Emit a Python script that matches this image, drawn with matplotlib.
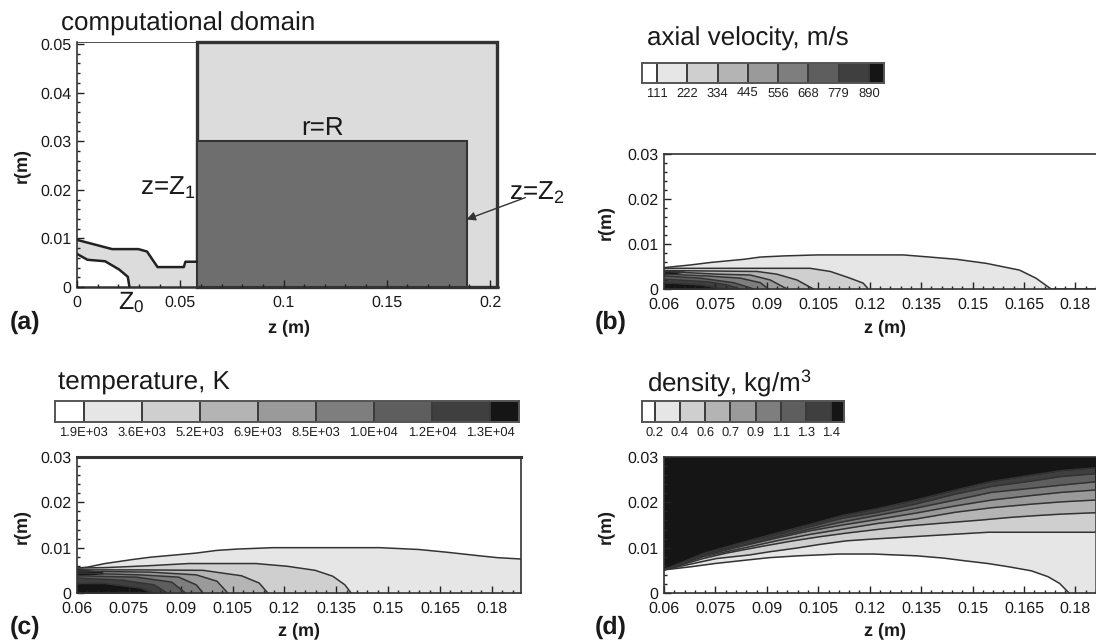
# -*- coding: utf-8 -*-
import numpy as np
from matplotlib import pyplot as plt
from matplotlib.colors import ListedColormap
from matplotlib.patches import Rectangle

plt.rcParams['font.family'] = ['Liberation Sans', 'DejaVu Sans']
plt.rcParams['mathtext.default'] = 'regular'
plt.rcParams['text.hinting'] = 'no_hinting'
plt.rcParams['text.hinting_factor'] = 1

W, H = 1096, 641

greys = ['#ffffff', '#e6e6e6', '#cfcfcf', '#b4b4b4', '#9a9a9a', '#7e7e7e', '#5e5e5e', '#3f3f3f', '#151515']
line_col = '#333333'

# panel a: nozzle geometry
nozzle_z = [0, .017, .0297, .0339, .0390, .0517, .0525, .058]
nozzle_r = [.0097, .0078, .0078, .0073, .0041, .0041, .0052, .0052]
inner_z = [0, .0051, .0136, .0204, .0246, .0254]
inner_r = [.0068, .0056, .0053, .0036, .0021, 0]
domain_z = [.058, .2034]
domain_r = .0505
plume_z = [.058, .1886]
plume_r = .03

# panel b: axial velocity contours
vel_levels = ['111', '222', '334', '445', '556', '668', '779', '890']
vel_contours = [
    ([.06, .0678, .0736, .0833, .0881, .0949, .1046, .1298, .1375, .1453, .154, .1637, .1685, .1729, .19],
     [.00475, .00535, .0059, .0066, .0071, .00735, .00757, .00757, .0071, .0066, .0057, .0042, .0024, 0, 0]),
    ([.06, .0800, .1026, .1085, .1143, .1181, .1196], [.0046, .0046, .0046, .0039, .0024, .0013, 0]),
    ([.06, .0871, .0929, .0988, .1036], [.0041, .0039, .0033, .002, 0]),
    ([.06, .0755, .0852, .091, .0959], [.0039, .0033, .0031, .002, 0]),
    ([.06, .0726, .0823, .0881, .0905], [.0033, .0029, .0024, .0014, 0]),
    ([.06, .0707, .0803, .0862], [.0029, .0024, .0014, 0]),
    ([.06, .0726, .0784, .0823], [.0022, .0016, .0009, 0]),
    ([.06, .0707, .0774], [.0014, .0009, 0]),
]
vel_inlet_z = [.06, .066]
vel_inlet_lo = [.0031, .0037]
vel_inlet_hi = [.0042, .0040]

# panel c: temperature contours
temp_levels = ['1.9E+03', '3.6E+03', '5.2E+03', '6.9E+03', '8.5E+03', '1.0E+04', '1.2E+04', '1.3E+04']
temp_contours = [
    ([.06, .063, .0681, .0762, .0813, .0944, .1005, .1066, .1167, .1476, .1588, .1669, .1765, .1816, .1883],
     [.0055, .0057, .0065, .0074, .0079, .0088, .0094, .0097, .0100, .0100, .0096, .0090, .0082, .0078, .0075]),
    ([.06, .0681, .0803, .0924, .1117, .1208, .1289, .134, .1375, .1393],
     [.0055, .0056, .006, .0065, .0065, .0059, .005, .0037, .0018, 0]),
    ([.06, .0782, .0965, .1076, .1127, .1152], [.0051, .0051, .005, .0038, .0022, 0]),
    ([.06, .0813, .0945, .1005, .1036], [.0048, .0046, .004, .0026, 0]),
    ([.06, .0782, .0894, .0945, .0965], [.0044, .004, .0035, .0018, 0]),
    ([.06, .0772, .0874, .0914], [.0038, .0035, .0024, 0]),
    ([.06, .0732, .0823, .0861], [.0033, .0028, .0018, 0]),
    ([.06, .0681, .0782, .0823], [.0021, .0021, .0011, 0]),
]
temp_inlet_z = [.06, .0675]
temp_inlet_lo = [.0038, .0042]
temp_inlet_hi = [.0055, .0047]

# panel d: density contours, lowest level first
dens_levels = ['0.2', '0.4', '0.6', '0.7', '0.9', '1.1', '1.3', '1.4']
dens_z = [.06, .0714, .0831, .0928, .1024, .1121, .1228, .1333, .1449, .1555, .1672, .1759, .1856]
dens_contours = [
    ([.06, .068, .0748, .0845, .0908, .0991, .1112, .1209, .1337, .1415, .1478, .1545, .1604, .1671, .172, .1754, .1776, .1782],
     [.0051, .0058, .0065, .0073, .0078, .0082, .0086, .0086, .0082, .0077, .0071, .0065, .0058, .0049, .0036, .0021, .0004, 0]),
    ([.06, .0685, .0753, .085, .0908, .0986, .1053, .1131, .1209, .1299, .141, .1546, .1856],
     [.0051, .0065, .0076, .0084, .0091, .0099, .0107, .0115, .0119, .0123, .0128, .0134, .0134]),
    ([.06, .0714, .0782, .0879, .0976, .1053, .1131, .1209, .1313, .141, .1526, .1614, .1692, .1759, .1856],
     [.0051, .0076, .0088, .0102, .0115, .0124, .0132, .0139, .0148, .0154, .0161, .0167, .0171, .0174, .0177]),
    (dens_z, [.0051, .0080, .0099, .0115, .0129, .0141, .0154, .0163, .0178, .0188, .0196, .0201, .0205]),
    (dens_z, [.0051, .0082, .0104, .0121, .0137, .0150, .0163, .0176, .0192, .0205, .0215, .0222, .0227]),
    (dens_z, [.0051, .0084, .0106, .0124, .0141, .0157, .0172, .0187, .0205, .0222, .0231, .0238, .0245]),
    (dens_z, [.0051, .0085, .0110, .0128, .0146, .0165, .0179, .0196, .0218, .0235, .0247, .0257, .0263]),
    (dens_z, [.0051, .0087, .0112, .0132, .0151, .0171, .0187, .0205, .0227, .0246, .0260, .0270, .0276]),
]

z_ticks = [.06, .075, .09, .105, .12, .135, .15, .165, .18]
z_labels = ['0.06', '0.075', '0.09', '0.105', '0.12', '0.135', '0.15', '0.165', '0.18']
r_ticks = [0, .01, .02, .03]
r_labels = ['0', '0.01', '0.02', '0.03']


def px_axes(left, top, right, bottom):
    return fig.add_axes([left / W, 1 - bottom / H, (right - left) / W, (bottom - top) / H])


def label(x, y, s, size, **kw):
    kw.setdefault('va', 'center')
    fig.text(x / W, 1 - y / H, s, fontsize=size, color='#1a1a1a', **kw)


def style_axes(ax):
    ax.tick_params(which='major', direction='in', length=5, width=1, labelsize=11.3, color='#222222', labelcolor='#1a1a1a')
    ax.tick_params(axis='x', which='major', pad=6)
    ax.tick_params(axis='y', which='major', pad=4)
    ax.tick_params(which='minor', direction='in', length=2.5, width=1, color='#222222')
    for s in ax.spines.values():
        s.set_linewidth(1.2)
        s.set_color('#333333')


def field_axes(left, top, right, bottom, xlim):
    ax = px_axes(left, top, right, bottom)
    ax.set_xlim(*xlim)
    ax.set_ylim(0, .03)
    ax.set_xticks(z_ticks)
    ax.set_xticklabels(z_labels)
    ax.set_yticks(r_ticks)
    ax.set_yticklabels(r_labels)
    ax.set_xticks(np.arange(.06, .188, .003), minor=True)
    ax.set_yticks(np.arange(0, .03, .002), minor=True)
    style_axes(ax)
    return ax


def colorbar(left, top, right, bottom, levels, size):
    ax = px_axes(left, top, right, bottom)
    edges = [-.5] + list(range(len(levels))) + [len(levels) - .5]
    ax.pcolormesh(edges, [0, 1], [list(range(9))], cmap=ListedColormap(greys), edgecolors='none')
    for i in range(len(levels)):
        ax.axvline(i, color='#3a3a3a', lw=1.4)
    ax.set_xlim(edges[0], edges[-1])
    ax.set_ylim(0, 1)
    ax.set_yticks([])
    ax.set_xticks(range(len(levels)))
    ax.set_xticklabels(levels)
    ax.tick_params(length=0, labelsize=size, pad=3, labelcolor='#222222')
    for s in ax.spines.values():
        s.set_linewidth(1.4)
        s.set_color('#555555')


def draw_contours(ax, contours, inlet):
    for i, (z, r) in enumerate(contours):
        ax.fill_between(z, 0, r, color=greys[i + 1], lw=0)
    ax.fill_between(inlet[0], inlet[1], inlet[2], color=greys[8], lw=0)
    for z, r in contours:
        ax.plot(z, r, color=line_col, lw=1.1)


fig = plt.figure(figsize=(W / 100, H / 100), dpi=100)

# (a) computational domain
ax = px_axes(77, 41.6, 497.7, 287)
ax.set_xlim(0, .2037)
ax.set_ylim(0, domain_r)
ax.add_patch(Rectangle((domain_z[0], 0), domain_z[1] - domain_z[0], domain_r, fc='#dcdcdc', ec='#333333', lw=2.4, zorder=1, clip_on=False))
ax.add_patch(Rectangle((plume_z[0], 0), plume_z[1] - plume_z[0], plume_r, fc='#6e6e6e', ec='#333333', lw=1.5, zorder=2))
ax.fill_between(nozzle_z, 0, nozzle_r, color='#dcdcdc', lw=0, zorder=1)
ax.fill_between(inner_z, 0, inner_r, color='white', lw=0, zorder=1)
ax.plot(nozzle_z, nozzle_r, color='#222222', lw=1.8, zorder=3)
ax.plot(inner_z, inner_r, color='#222222', lw=1.8, zorder=3)
ax.set_xticks([0, .05, .1, .15, .2])
ax.set_xticklabels(['0', '0.05', '0.1', '0.15', '0.2'])
ax.set_yticks([0, .01, .02, .03, .04, .05])
ax.set_yticklabels(['0', '0.01', '0.02', '0.03', '0.04', '0.05'])
ax.set_xticks(np.arange(0, .204, .01), minor=True)
ax.set_yticks(np.arange(0, .05, .002), minor=True)
style_axes(ax)
ax.spines['top'].set_linewidth(.6)
ax.spines['right'].set_visible(False)
ax.spines['bottom'].set_linewidth(1.8)
ax.set_axisbelow(False)
ax.annotate('', xy=(plume_z[1], .0139), xytext=(.2171, .0184),
            arrowprops=dict(arrowstyle='-|>', color='#333333', lw=1, mutation_scale=13, shrinkA=0, shrinkB=0),
            annotation_clip=False)
label(60.7, 24, 'computational domain', 19)
label(323, 128, 'r=R', 19, ha='center')
label(140, 188, 'z=Z$_1$', 19)
label(118, 302, 'Z$_0$', 18)
label(509, 193, 'z=Z$_2$', 19)

# (b) axial velocity
ax = field_axes(664, 154, W, 289, (.06, .1856))
draw_contours(ax, vel_contours, (vel_inlet_z, vel_inlet_lo, vel_inlet_hi))
ax.spines['right'].set_visible(False)
colorbar(642, 63, 884, 83, vel_levels, 9)
label(647, 39, 'axial velocity, m/s', 19)

# (c) temperature
ax = field_axes(77, 457, 520.5, 593, (.06, .1883))
draw_contours(ax, temp_contours, (temp_inlet_z, temp_inlet_lo, temp_inlet_hi))
ax.spines['top'].set_linewidth(2.2)
colorbar(54.7, 401, 519, 422, temp_levels, 9.4)
label(58, 383, 'temperature, K', 19)

# (d) density
ax = field_axes(664, 457, W, 593, (.06, .1856))
ax.set_facecolor(greys[8])
for i in range(len(dens_contours) - 1, -1, -1):
    z, r = dens_contours[i]
    ax.fill_between(z, 0, r, color=greys[i], lw=0)
for z, r in dens_contours:
    ax.plot(z, r, color=line_col, lw=1.1)
ax.spines['right'].set_visible(False)
colorbar(642, 401, 844, 422, dens_levels, 9)
label(647, 383, 'density, kg/m$^3$', 19)

# shared labels
for x, y in [(289, 328), (885, 328), (299, 631), (885, 631)]:
    label(x, y, 'z (m)', 13, ha='center', fontweight='bold')
for x, y in [(21, 165), (605, 222), (21, 527), (605, 527)]:
    label(x, y, 'r(m)', 13, ha='center', rotation=90, fontweight='bold')
for x, y, s in [(10, 322, '(a)'), (595, 322, '(b)'), (10, 627, '(c)'), (595, 627, '(d)')]:
    label(x, y, s, 18, fontweight='bold')

fig.savefig('out.png', dpi=100)
